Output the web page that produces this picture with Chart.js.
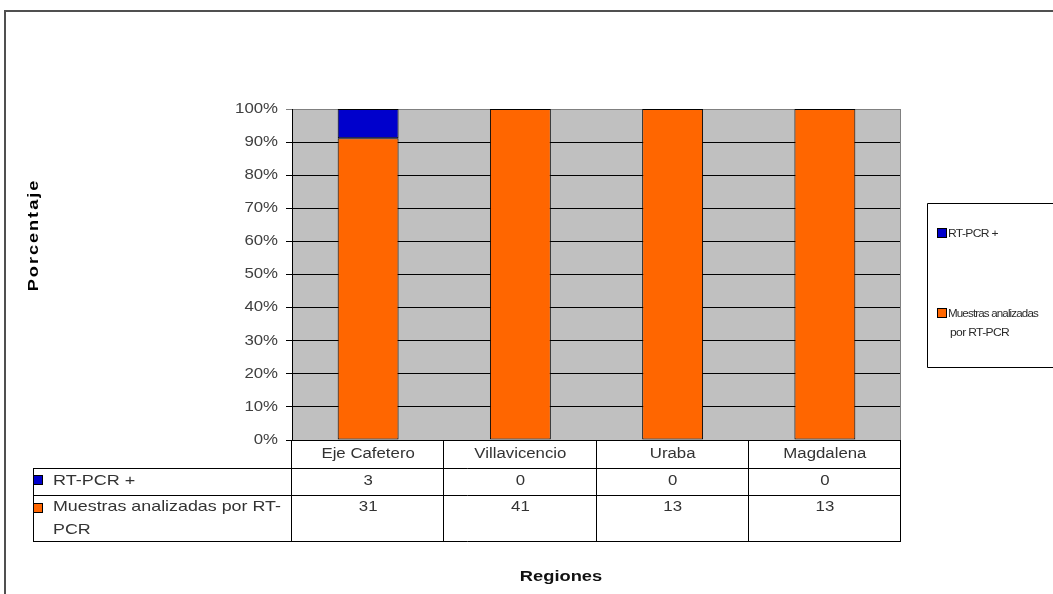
<!DOCTYPE html>
<html>
<head>
<meta charset="utf-8">
<script src="https://cdn.jsdelivr.net/npm/chart.js@4.4.0/dist/chart.umd.min.js"></script>
<style>
  html, body { margin: 0; padding: 0; background: #ffffff; }
  canvas { display: block; }
</style>
</head>
<body>
<canvas id="grafico" width="1053" height="594"></canvas>
<script>
// Regiones y conteos de muestras
const regiones = ['Eje Cafetero', 'Villavicencio', 'Uraba', 'Magdalena'];
const rtPcrPositivos = [3, 0, 0, 0];
const muestrasAnalizadas = [31, 41, 13, 13];
const serieRtPcr = 'RT-PCR +';
const serieMuestras = 'Muestras analizadas por RT-PCR';
const yTickValues = [0, 10, 20, 30, 40, 50, 60, 70, 80, 90, 100];
const yTickLabels = yTickValues.map(v => v + '%');
const tituloY = 'Porcentaje';
const tituloX = 'Regiones';

// Columnas apiladas al 100 %
const totales = regiones.map((_, i) => rtPcrPositivos[i] + muestrasAnalizadas[i]);
const pctRtPcr = rtPcrPositivos.map((v, i) => v / totales[i] * 100);
const pctMuestras = muestrasAnalizadas.map((v, i) => v / totales[i] * 100);

const AZUL = '#0000CC';
const NARANJA = '#FF6600';
const FONDO_PLOT = '#C0C0C0';
const FUENTE = '"Liberation Sans", Arial, sans-serif';

function texto(ctx, s, x, y, opt) {
  const o = Object.assign({ size: 14, bold: false, color: '#333333', align: 'left', sx: 1.2, rot: 0, spacing: 0 }, opt);
  ctx.save();
  ctx.translate(x, y);
  if (o.rot) ctx.rotate(o.rot);
  ctx.scale(o.sx, 1);
  ctx.font = (o.bold ? 'bold ' : '') + o.size + 'px ' + FUENTE;
  if (o.spacing) ctx.letterSpacing = o.spacing + 'px';
  ctx.fillStyle = o.color;
  ctx.textAlign = o.align;
  ctx.textBaseline = 'middle';
  ctx.fillText(s, 0, 0);
  ctx.restore();
}

function linea(ctx, x1, y1, x2, y2, color, w) {
  ctx.save();
  ctx.strokeStyle = color || '#000';
  ctx.lineWidth = w || 1;
  ctx.beginPath();
  ctx.moveTo(x1, y1);
  ctx.lineTo(x2, y2);
  ctx.stroke();
  ctx.restore();
}

function cuadro(ctx, x, y, s, color) {
  ctx.save();
  ctx.fillStyle = color;
  ctx.fillRect(x, y, s, s);
  ctx.strokeStyle = '#000';
  ctx.lineWidth = 1;
  ctx.strokeRect(x + 0.5, y + 0.5, s - 1, s - 1);
  ctx.restore();
}

const decoracion = {
  id: 'decoracion',
  beforeDraw(chart) {
    const { ctx, chartArea: a } = chart;
    ctx.save();
    ctx.fillStyle = '#ffffff';
    ctx.fillRect(0, 0, chart.width, chart.height);
    ctx.fillStyle = FONDO_PLOT;
    ctx.fillRect(a.left, a.top, a.right - a.left, a.bottom - a.top);
    ctx.restore();
  },
  afterDraw(chart) {
    const { ctx, chartArea: a } = chart;
    const ys = chart.scales.y;
    const xs = chart.scales.x;

    // borde derecho del área de trazado
    linea(ctx, a.right - 0.5, a.top, a.right - 0.5, a.bottom, '#808080', 1);

    // etiquetas del eje Y
    yTickValues.forEach((v, i) => {
      texto(ctx, yTickLabels[i], a.left - 14, ys.getPixelForValue(v), { size: 14, color: '#404040', align: 'right', sx: 1.2 });
    });

    // tabla de datos
    const n = regiones.length;
    const colW = (a.right - a.left) / n;
    const tabIzq = 33.5;
    const yCab = a.bottom;
    const yF1 = yCab + 28;
    const yF2 = yF1 + 27;
    const yFin = yF2 + 46;
    const bordes = [];
    for (let i = 0; i <= n; i++) bordes.push(Math.round(a.left + i * colW) - 0.5);

    bordes.forEach(x => linea(ctx, x, yCab, x, yFin, '#000', 1));
    linea(ctx, tabIzq, yF1 + 0.5, a.right, yF1 + 0.5, '#000', 1);
    linea(ctx, tabIzq, yF2 + 0.5, a.right, yF2 + 0.5, '#000', 1);
    linea(ctx, tabIzq, yFin + 0.5, a.right, yFin + 0.5, '#000', 1);
    linea(ctx, tabIzq, yF1, tabIzq, yFin + 1, '#000', 1);

    regiones.forEach((r, i) => {
      const cx = xs.getPixelForValue(i);
      texto(ctx, r, cx, yCab + 14, { size: 14, align: 'center', sx: 1.2 });
      texto(ctx, String(rtPcrPositivos[i]), cx, yF1 + 13, { size: 14, align: 'center', sx: 1.2 });
      texto(ctx, String(muestrasAnalizadas[i]), cx, yF2 + 12, { size: 14, align: 'center', sx: 1.2 });
    });

    cuadro(ctx, 33, yF1 + 7, 10, AZUL);
    texto(ctx, serieRtPcr, 53, yF1 + 13, { size: 15, sx: 1.2 });
    cuadro(ctx, 33, yF2 + 8, 10, NARANJA);
    const partes = ['Muestras analizadas por RT-', 'PCR'];
    texto(ctx, partes[0], 53, yF2 + 12, { size: 15, sx: 1.19 });
    texto(ctx, partes[1], 53, yF2 + 35, { size: 15, sx: 1.19 });

    // títulos de ejes
    texto(ctx, tituloY, 34, 235, { size: 14, bold: true, color: '#000', align: 'center', sx: 1.3, spacing: 1.5, rot: -Math.PI / 2 });
    texto(ctx, tituloX, 561, 577, { size: 15, bold: true, color: '#111', align: 'center', sx: 1.22 });

    // leyenda
    const lx = 927.5, ly = 203.5;
    ctx.save();
    ctx.strokeStyle = '#000';
    ctx.lineWidth = 1;
    ctx.beginPath();
    ctx.moveTo(chart.width, ly);
    ctx.lineTo(lx, ly);
    ctx.lineTo(lx, 367.5);
    ctx.lineTo(chart.width, 367.5);
    ctx.stroke();
    ctx.restore();
    cuadro(ctx, 937, 228, 10, AZUL);
    texto(ctx, serieRtPcr, 948, 234, { size: 11, color: '#2a2a2a', sx: 1.1, spacing: -0.6 });
    cuadro(ctx, 937, 308, 10, NARANJA);
    texto(ctx, 'Muestras analizadas', 948, 314, { size: 11, color: '#2a2a2a', sx: 1.05, spacing: -0.8 });
    texto(ctx, 'por RT-PCR', 950, 333, { size: 11, color: '#2a2a2a', sx: 1.1, spacing: -0.6 });

    // marco exterior
    ctx.save();
    ctx.strokeStyle = '#505050';
    ctx.lineWidth = 2;
    ctx.beginPath();
    ctx.moveTo(5, chart.height);
    ctx.lineTo(5, 11);
    ctx.lineTo(chart.width, 11);
    ctx.stroke();
    ctx.restore();
  }
};

new Chart(document.getElementById('grafico'), {
  type: 'bar',
  data: {
    labels: regiones,
    datasets: [
      { label: serieMuestras, data: pctMuestras, backgroundColor: NARANJA, borderColor: '#000', borderWidth: 1, borderSkipped: false },
      { label: serieRtPcr, data: pctRtPcr, backgroundColor: AZUL, borderColor: '#000', borderWidth: 1, borderSkipped: false }
    ]
  },
  options: {
    responsive: false,
    animation: false,
    devicePixelRatio: 1,
    layout: { padding: { left: 0, top: 109, right: 152, bottom: 154 } },
    datasets: { bar: { categoryPercentage: 1, barPercentage: 0.4 } },
    plugins: { legend: { display: false }, tooltip: { enabled: false } },
    scales: {
      x: { display: false, stacked: true },
      y: {
        stacked: true,
        min: 0,
        max: 100,
        afterFit: s => { s.width = 292; },
        ticks: { display: false, stepSize: 10 },
        grid: {
          color: c => (c.tick && c.tick.value === 100 ? '#808080' : '#000000'),
          lineWidth: 1,
          tickLength: 6
        },
        border: { color: '#000000', width: 1 }
      }
    }
  },
  plugins: [decoracion]
});
</script>
</body>
</html>
